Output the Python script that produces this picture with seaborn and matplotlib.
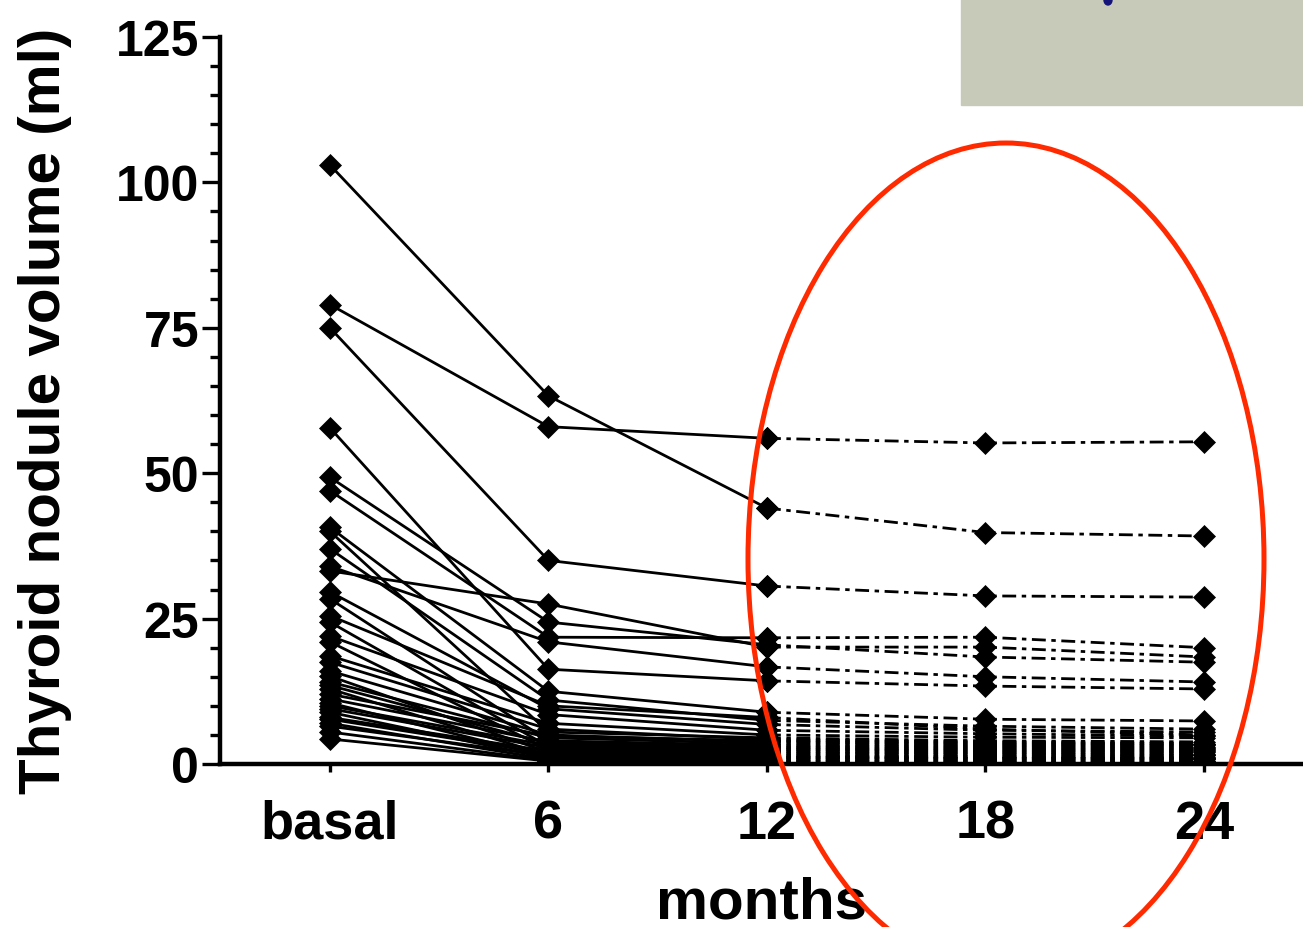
import numpy as np
import pandas as pd
import matplotlib
matplotlib.use("Agg")
import matplotlib.pyplot as plt
from matplotlib import patches
import seaborn as sns

# ---- data ----
time_labels = ["basal", "6", "12", "18", "24"]
basal = [103.0, 79.0, 75.0, 57.8, 49.3, 47.0, 40.7, 40.0, 37.0, 34.0, 33.2, 29.6,
         28.4, 25.5, 24.4, 22.0, 21.0, 18.6, 17.5, 16.0, 15.1, 14.1, 13.5, 12.9,
         12.0, 11.2, 10.5, 10.0, 9.5, 8.9, 8.0, 7.7, 7.0, 6.5, 5.5, 4.3]
m6 = [63.3, 58.0, 35.0, 16.3, 24.4, 21.8, 12.5, 5.5, 11.0, 21.0, 27.5, 9.5,
      4.0, 10.0, 3.0, 8.5, 2.5, 7.0, 6.0, 5.0, 2.0, 4.5, 3.5, 1.5,
      4.8, 3.8, 1.2, 3.2, 2.8, 1.0, 2.2, 1.8, 0.8, 1.4, 0.6, 0.5]
m12 = [44.0, 56.0, 30.6, 14.3, 20.5, 21.7, 8.9, 4.5, 7.5, 16.7, 20.1, 6.8,
       3.2, 8.0, 2.5, 5.8, 2.0, 5.0, 4.2, 3.8, 1.5, 3.5, 2.8, 1.2,
       4.0, 3.0, 1.0, 2.6, 2.2, 0.8, 1.8, 1.4, 0.6, 1.1, 0.5, 0.4]
m18 = [39.8, 55.2, 28.9, 13.4, 18.4, 21.8, 7.7, 4.0, 6.5, 15.0, 20.1, 5.8,
       3.0, 6.0, 2.2, 5.2, 1.8, 4.6, 3.8, 3.4, 1.3, 3.2, 2.6, 1.0,
       3.6, 2.8, 0.9, 2.4, 2.0, 0.7, 1.6, 1.2, 0.5, 1.0, 0.4, 0.3]
m24 = [39.2, 55.4, 28.7, 12.9, 17.5, 20.0, 7.4, 3.8, 6.0, 14.1, 18.4, 5.5,
       2.8, 5.0, 2.0, 4.8, 1.5, 4.5, 3.5, 3.2, 1.2, 3.0, 2.4, 1.0,
       3.4, 2.6, 0.8, 2.2, 1.8, 0.6, 1.5, 1.1, 0.5, 0.9, 0.4, 0.3]

series = [basal, m6, m12, m18, m24]
rows = []
for t, vals in enumerate(series):
    for p, v in enumerate(vals):
        rows.append({"patient": p, "t": t, "vol": v})
df = pd.DataFrame(rows)
solid = df[df["t"] <= 2]
dashed = df[df["t"] >= 2]

# ---- style ----
sns.set_style("ticks")
plt.rcParams["font.family"] = ["Liberation Sans", "DejaVu Sans"]
plt.rcParams["font.weight"] = "bold"
for key in ["text.color", "axes.labelcolor", "xtick.color", "ytick.color",
            "axes.edgecolor"]:
    plt.rcParams[key] = "black"

W, H = 1303, 928
fig = plt.figure(figsize=(W / 100, H / 100), dpi=100)
ax = fig.add_axes([220 / W, (H - 765) / H, (W - 220) / W, (765 - 38) / H])

mk = dict(marker="D", markersize=11, markeredgecolor="black",
          markerfacecolor="black", markeredgewidth=0.5)
sns.lineplot(data=dashed, x="t", y="vol", units="patient", estimator=None,
             color="black", lw=2.0, linestyle=(0, (5, 2, 1.6, 2)),
             legend=False, ax=ax, **mk)
sns.lineplot(data=solid, x="t", y="vol", units="patient", estimator=None,
             color="black", lw=2.0, legend=False, ax=ax, **mk)

ax.set_xlim(-0.503, (W - 330) / 218.5)
ax.set_ylim(0, 125)
ax.set_xticks(range(len(time_labels)))
ax.set_xticklabels(time_labels)
ax.set_yticks([0, 25, 50, 75, 100, 125])
ax.set_yticks(np.arange(0, 126, 5), minor=True)
ax.tick_params(axis="both", width=2.4, color="black", labelcolor="black")
ax.tick_params(axis="y", which="major", length=13, pad=2, labelsize=36)
ax.tick_params(axis="y", which="minor", length=7, width=2.4)
ax.tick_params(axis="x", which="major", length=6, pad=19, labelsize=39)
for lab in ax.get_xticklabels() + ax.get_yticklabels():
    lab.set_fontweight("bold")

ax.set_xlabel("months", fontsize=42, fontweight="bold", labelpad=19)
ax.set_ylabel("Thyroid nodule volume (ml)", fontsize=42, fontweight="bold")
ax.yaxis.set_label_coords(-0.137, 0.487)

sns.despine(ax=ax)
ax.spines["left"].set_linewidth(3.2)
ax.spines["bottom"].set_linewidth(3.2)
for sp in ax.spines.values():
    sp.set_capstyle("projecting")

# ---- annotations ----
fig.patches.append(patches.Rectangle((961 / W, (H - 106) / H), (W - 961) / W, 106 / H,
                                     transform=fig.transFigure, color="#C8CAB9",
                                     zorder=5))
fig.patches.append(patches.Ellipse((1108 / W, (H - 1) / H), 8 / W, 10 / H,
                                   transform=fig.transFigure, color="#141478",
                                   zorder=6))
fig.patches.append(patches.Ellipse((1006 / W, (H - 560) / H), 516 / W, 832 / H,
                                   transform=fig.transFigure, fill=False,
                                   ec="#FF2A00", lw=3.6, zorder=7))

fig.savefig("out.png", dpi=100)
